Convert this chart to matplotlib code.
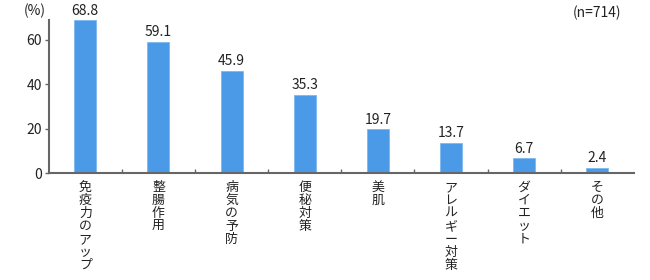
import matplotlib
matplotlib.use("Agg")
import matplotlib.pyplot as plt

plt.rcParams['font.family'] = ['Noto Sans CJK JP', 'DejaVu Sans']

categories = ["免疫力のアップ", "整腸作用", "病気の予防", "便秘対策", "美肌", "アレルギー対策", "ダイエット", "その他"]
values = [68.8, 59.1, 45.9, 35.3, 19.7, 13.7, 6.7, 2.4]
yticks = [0, 20, 40, 60]

fig = plt.figure(figsize=(6.5, 2.8), dpi=100)
ax = fig.add_axes([0.075, 0.382, 0.9, 0.547])

x = list(range(len(categories)))
ax.bar(x, values, width=0.3, color="#4A9AE8", edgecolor="#7DB8F0", linewidth=0.6, zorder=2)
for xi, v in zip(x, values):
    ax.text(xi, v + 1.2, f"{v:.1f}", ha="center", va="bottom", fontsize=10, color="#222222")

ax.set_xlim(-0.5, len(categories) - 0.5)
ax.set_ylim(0, 69)
ax.set_yticks(yticks)
ax.tick_params(axis="y", labelsize=10, length=3, width=1, color="#666666", labelcolor="#222222", pad=2)

ax.set_xticks([i + 0.5 for i in range(len(categories) - 1)])
ax.set_xticklabels([])
ax.tick_params(axis="x", direction="in", length=3, width=1, color="#666666")

for xi, c in zip(x, categories):
    ax.text(xi, -3.5, "\n".join(c), ha="center", va="top", fontsize=9.3, linespacing=1.0,
            color="#222222", transform=ax.transData, clip_on=False)

for s in ["top", "right"]:
    ax.spines[s].set_visible(False)
for s in ["left", "bottom"]:
    ax.spines[s].set_color("#666666")
    ax.spines[s].set_linewidth(1.5)

fig.text(0.053, 0.962, "(%)", ha="center", va="center", fontsize=10, color="#222222")
fig.text(0.918, 0.955, "(n=714)", ha="center", va="center", fontsize=10, color="#222222")

fig.savefig("out.png", dpi=100)
